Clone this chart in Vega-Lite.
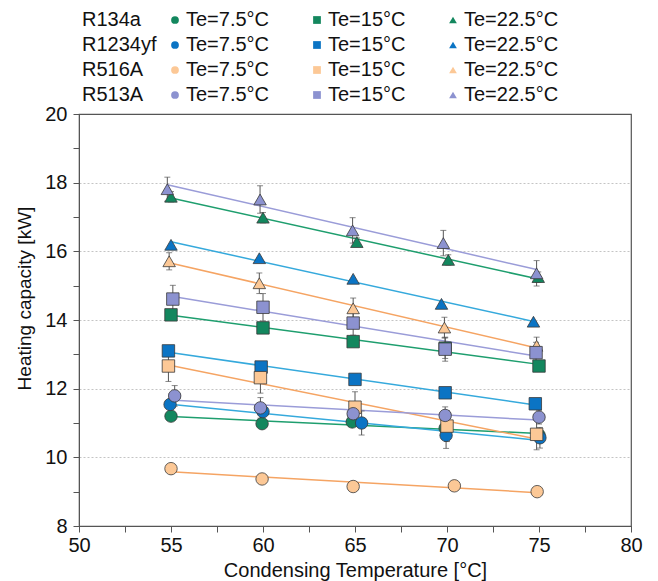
{
  "$schema": "https://vega.github.io/schema/vega-lite/v6.json",
  "width": 552,
  "height": 412,
  "autosize": {"type": "none"},
  "padding": {"left": 79, "top": 114, "right": 27, "bottom": 55},
  "background": "white",
  "config": {"font": "Liberation Sans", "view": {"stroke": "#555", "strokeWidth": 1.2}},
  "data": {"values": [
    {"r": "R134a", "s": "R134a|Te=7.5°C", "t": 55.0, "q": 11.20},
    {"r": "R134a", "s": "R134a|Te=7.5°C", "t": 59.95, "q": 10.98},
    {"r": "R134a", "s": "R134a|Te=7.5°C", "t": 64.85, "q": 11.03},
    {"r": "R134a", "s": "R134a|Te=7.5°C", "t": 69.9, "q": 10.85},
    {"r": "R134a", "s": "R134a|Te=7.5°C", "t": 75.0, "q": 10.65},
    {"r": "R134a", "s": "R134a|Te=15°C", "t": 55.0, "q": 14.15, "e": 0.12},
    {"r": "R134a", "s": "R134a|Te=15°C", "t": 60.0, "q": 13.77, "e": 0.15},
    {"r": "R134a", "s": "R134a|Te=15°C", "t": 64.9, "q": 13.37, "e": 0.12},
    {"r": "R134a", "s": "R134a|Te=15°C", "t": 69.9, "q": 13.18, "e": 0.3},
    {"r": "R134a", "s": "R134a|Te=15°C", "t": 75.0, "q": 12.66, "e": 0.15},
    {"r": "R134a", "s": "R134a|Te=22.5°C", "t": 55.0, "q": 17.59, "e": 0.15},
    {"r": "R134a", "s": "R134a|Te=22.5°C", "t": 60.0, "q": 16.98, "e": 0.15},
    {"r": "R134a", "s": "R134a|Te=22.5°C", "t": 65.1, "q": 16.27, "e": 0.12},
    {"r": "R134a", "s": "R134a|Te=22.5°C", "t": 70.07, "q": 15.75, "e": 0.15},
    {"r": "R134a", "s": "R134a|Te=22.5°C", "t": 74.96, "q": 15.25, "e": 0.15},
    {"r": "R1234yf", "s": "R1234yf|Te=7.5°C", "t": 54.95, "q": 11.54},
    {"r": "R1234yf", "s": "R1234yf|Te=7.5°C", "t": 60.0, "q": 11.33},
    {"r": "R1234yf", "s": "R1234yf|Te=7.5°C", "t": 65.36, "q": 11.0, "e": 0.35},
    {"r": "R1234yf", "s": "R1234yf|Te=7.5°C", "t": 69.95, "q": 10.64, "e": 0.38},
    {"r": "R1234yf", "s": "R1234yf|Te=7.5°C", "t": 75.05, "q": 10.57, "e": 0.3},
    {"r": "R1234yf", "s": "R1234yf|Te=15°C", "t": 54.86, "q": 13.10, "e": 0.15},
    {"r": "R1234yf", "s": "R1234yf|Te=15°C", "t": 59.9, "q": 12.63, "e": 0.15},
    {"r": "R1234yf", "s": "R1234yf|Te=15°C", "t": 65.0, "q": 12.27, "e": 0.15},
    {"r": "R1234yf", "s": "R1234yf|Te=15°C", "t": 69.9, "q": 11.88, "e": 0.15},
    {"r": "R1234yf", "s": "R1234yf|Te=15°C", "t": 74.8, "q": 11.56, "e": 0.15},
    {"r": "R1234yf", "s": "R1234yf|Te=22.5°C", "t": 55.0, "q": 16.19},
    {"r": "R1234yf", "s": "R1234yf|Te=22.5°C", "t": 59.8, "q": 15.80},
    {"r": "R1234yf", "s": "R1234yf|Te=22.5°C", "t": 64.9, "q": 15.20},
    {"r": "R1234yf", "s": "R1234yf|Te=22.5°C", "t": 69.7, "q": 14.47},
    {"r": "R1234yf", "s": "R1234yf|Te=22.5°C", "t": 74.7, "q": 13.95},
    {"r": "R516A", "s": "R516A|Te=7.5°C", "t": 55.0, "q": 9.67},
    {"r": "R516A", "s": "R516A|Te=7.5°C", "t": 59.95, "q": 9.37},
    {"r": "R516A", "s": "R516A|Te=7.5°C", "t": 64.9, "q": 9.15},
    {"r": "R516A", "s": "R516A|Te=7.5°C", "t": 70.4, "q": 9.17},
    {"r": "R516A", "s": "R516A|Te=7.5°C", "t": 74.9, "q": 9.0},
    {"r": "R516A", "s": "R516A|Te=15°C", "t": 54.86, "q": 12.66, "e": 0.45},
    {"r": "R516A", "s": "R516A|Te=15°C", "t": 59.86, "q": 12.32, "e": 0.45},
    {"r": "R516A", "s": "R516A|Te=15°C", "t": 65.0, "q": 11.46, "e": 0.45},
    {"r": "R516A", "s": "R516A|Te=15°C", "t": 70.0, "q": 10.91, "e": 0.45},
    {"r": "R516A", "s": "R516A|Te=15°C", "t": 74.87, "q": 10.67, "e": 0.45},
    {"r": "R516A", "s": "R516A|Te=22.5°C", "t": 54.9, "q": 15.71, "e": 0.25},
    {"r": "R516A", "s": "R516A|Te=22.5°C", "t": 59.8, "q": 15.07, "e": 0.3},
    {"r": "R516A", "s": "R516A|Te=22.5°C", "t": 64.9, "q": 14.34, "e": 0.3},
    {"r": "R516A", "s": "R516A|Te=22.5°C", "t": 69.86, "q": 13.78, "e": 0.3},
    {"r": "R516A", "s": "R516A|Te=22.5°C", "t": 74.87, "q": 13.25, "e": 0.25},
    {"r": "R513A", "s": "R513A|Te=7.5°C", "t": 55.2, "q": 11.79, "e": 0.3, "xe": 0.3},
    {"r": "R513A", "s": "R513A|Te=7.5°C", "t": 59.86, "q": 11.44, "e": 0.3, "xe": 0.3},
    {"r": "R513A", "s": "R513A|Te=7.5°C", "t": 64.9, "q": 11.27, "e": 0.2, "xe": 0.3},
    {"r": "R513A", "s": "R513A|Te=7.5°C", "t": 69.9, "q": 11.22, "e": 0.25, "xe": 0.3},
    {"r": "R513A", "s": "R513A|Te=7.5°C", "t": 75.0, "q": 11.17, "e": 0.2, "xe": 0.3},
    {"r": "R513A", "s": "R513A|Te=15°C", "t": 55.1, "q": 14.61, "e": 0.4},
    {"r": "R513A", "s": "R513A|Te=15°C", "t": 60.0, "q": 14.37, "e": 0.4},
    {"r": "R513A", "s": "R513A|Te=15°C", "t": 64.9, "q": 13.91, "e": 0.35},
    {"r": "R513A", "s": "R513A|Te=15°C", "t": 69.9, "q": 13.15, "e": 0.35},
    {"r": "R513A", "s": "R513A|Te=15°C", "t": 74.84, "q": 13.05, "e": 0.3},
    {"r": "R513A", "s": "R513A|Te=22.5°C", "t": 54.8, "q": 17.81, "e": 0.35},
    {"r": "R513A", "s": "R513A|Te=22.5°C", "t": 59.84, "q": 17.51, "e": 0.4},
    {"r": "R513A", "s": "R513A|Te=22.5°C", "t": 64.87, "q": 16.61, "e": 0.37},
    {"r": "R513A", "s": "R513A|Te=22.5°C", "t": 69.8, "q": 16.24, "e": 0.37},
    {"r": "R513A", "s": "R513A|Te=22.5°C", "t": 74.87, "q": 15.36, "e": 0.37}
  ]},
  "encoding": {
    "x": {"field": "t", "type": "quantitative",
      "scale": {"domain": [50, 80], "nice": false, "zero": false},
      "axis": {"values": [50, 52.5, 55, 57.5, 60, 62.5, 65, 67.5, 70, 72.5, 75, 77.5, 80],
        "labelExpr": "datum.value % 5 == 0 ? format(datum.value, 'd') : ''",
        "title": "Condensing Temperature [°C]", "grid": false,
        "tickSize": 6, "tickColor": "#555", "domainColor": "#555",
        "labelFontSize": 20, "labelColor": "#111", "labelPadding": 3, "labelFlush": false,
        "titleFontSize": 20, "titleFontWeight": "normal", "titleColor": "#111", "titlePadding": 5}},
    "y": {"field": "q", "type": "quantitative",
      "scale": {"domain": [8, 20], "nice": false, "zero": false},
      "axis": {"values": [8, 9, 10, 11, 12, 13, 14, 15, 16, 17, 18, 19, 20],
        "labelExpr": "datum.value % 2 == 0 ? format(datum.value, 'd') : ''",
        "title": "Heating capacity  [kW]", "grid": true, "gridDash": [2, 2], "gridColor": "#c4c4c4",
        "gridOpacity": {"condition": {"test": "datum.value % 2 == 0 && datum.value > 8 && datum.value < 20", "value": 1}, "value": 0},
        "tickSize": 6, "tickColor": "#555", "domainColor": "#555",
        "labelFontSize": 20, "labelColor": "#111", "labelPadding": 6, "labelFlush": false,
        "titleFontSize": 19, "titleFontWeight": "normal", "titleColor": "#111", "titlePadding": 10, "titleY": 184}}
  },
  "layer": [
    {
      "transform": [{"regression": "q", "on": "t", "groupby": ["r", "s"]}],
      "mark": {"type": "line", "strokeWidth": 1.5},
      "encoding": {
        "stroke": {"field": "r", "type": "nominal",
          "scale": {"domain": ["R134a", "R1234yf", "R516A", "R513A"], "range": ["#1e9e6e", "#35a9dc", "#f5a463", "#9a9cd8"]},
          "legend": null},
        "detail": {"field": "s"},
        "size": {"field": "r", "type": "ordinal",
          "scale": {"domain": ["R134a", "R1234yf", "R516A", "R513A"], "range": [1.5, 1.5, 1.5, 1.5]},
          "legend": {"title": null, "orient": "none", "legendX": -17, "legendY": -104, "direction": "vertical",
            "rowPadding": 5, "labelFontSize": 20, "labelColor": "#111", "labelOffset": 0,
            "symbolSize": 1, "symbolOpacity": 0, "symbolStrokeWidth": 0, "padding": 0}}
      }
    },
    {
      "transform": [{"filter": "datum.e > 0"}],
      "mark": {"type": "errorbar", "color": "#555", "thickness": 1, "ticks": {"size": 6}},
      "encoding": {"yError": {"field": "e"}}
    },
    {
      "transform": [{"filter": "datum.xe > 0"}],
      "mark": {"type": "errorbar", "color": "#555", "thickness": 1, "ticks": {"size": 6}},
      "encoding": {"xError": {"field": "xe"}}
    },
    {
      "mark": {"type": "point", "filled": true, "size": 155, "stroke": "#3a3a3a", "strokeWidth": 0.8, "opacity": 1},
      "encoding": {
        "fill": {"field": "s", "type": "nominal",
          "scale": {"domain": ["R134a|Te=7.5°C", "R1234yf|Te=7.5°C", "R516A|Te=7.5°C", "R513A|Te=7.5°C", "R134a|Te=15°C", "R1234yf|Te=15°C", "R516A|Te=15°C", "R513A|Te=15°C", "R134a|Te=22.5°C", "R1234yf|Te=22.5°C", "R516A|Te=22.5°C", "R513A|Te=22.5°C"],
            "range": ["#13875e", "#0b74c4", "#fcc896", "#8c92d0", "#13875e", "#0b74c4", "#fcc896", "#8c92d0", "#13875e", "#0b74c4", "#fcc896", "#8c92d0"]},
          "legend": {"title": null, "orient": "none", "legendX": 86, "legendY": -104, "columns": 3, "columnPadding": 37,
            "rowPadding": 5, "labelFontSize": 20, "labelColor": "#111", "labelOffset": 1, "symbolSize": 60,
            "symbolStrokeColor": "#444", "symbolStrokeWidth": 0.7, "labelExpr": "split(datum.label, '|')[1]", "padding": 0,
            "encode": {"symbols": {"update": {"stroke": {"value": "#444"}, "strokeWidth": {"value": 0.7}}}}}},
        "shape": {"field": "s", "type": "nominal",
          "scale": {"domain": ["R134a|Te=7.5°C", "R1234yf|Te=7.5°C", "R516A|Te=7.5°C", "R513A|Te=7.5°C", "R134a|Te=15°C", "R1234yf|Te=15°C", "R516A|Te=15°C", "R513A|Te=15°C", "R134a|Te=22.5°C", "R1234yf|Te=22.5°C", "R516A|Te=22.5°C", "R513A|Te=22.5°C"],
            "range": ["circle", "circle", "circle", "circle", "square", "square", "square", "square", "triangle-up", "triangle-up", "triangle-up", "triangle-up"]},
          "legend": {"title": null, "orient": "none", "legendX": 86, "legendY": -104, "columns": 3, "columnPadding": 37,
            "rowPadding": 5, "labelFontSize": 20, "labelColor": "#111", "labelOffset": 1, "symbolSize": 60,
            "symbolStrokeColor": "#444", "symbolStrokeWidth": 0.7, "labelExpr": "split(datum.label, '|')[1]", "padding": 0,
            "encode": {"symbols": {"update": {"stroke": {"value": "#444"}, "strokeWidth": {"value": 0.7}}}}}}
      }
    }
  ]
}
